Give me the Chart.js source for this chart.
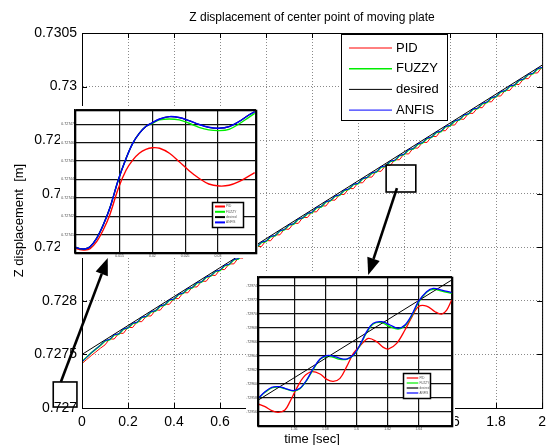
<!DOCTYPE html>
<html>
<head>
<meta charset="utf-8">
<script src="https://cdn.jsdelivr.net/npm/chart.js@4.4.0/dist/chart.umd.min.js"></script>
<style>
  html, body { margin: 0; padding: 0; background: #fff; }
  #wrap { position: relative; width: 552px; height: 445px; overflow: hidden; }
  canvas { position: absolute; background: #fff; }
  #overlay { background: transparent; pointer-events: none; }
</style>
</head>
<body>
<div id="wrap">
  <canvas id="main" width="552" height="445" style="left:0;top:0"></canvas>
  <canvas id="zoomA" width="198" height="152" style="left:60px;top:106px"></canvas>
  <canvas id="zoomB" width="209" height="159" style="left:246px;top:273px"></canvas>
  <canvas id="overlay" width="552" height="445" style="left:0;top:0"></canvas>
</div>
<script>
// ---- data ----
const seriesNames = ['PID', 'FUZZY', 'desired', 'ANFIS'];

// main plot, 0..2 s
const timeMain = [0,0.02,0.04,0.06,0.08,0.1,0.12,0.14,0.16,0.18,0.2,0.22,0.24,0.26,0.28,0.3,0.32,0.34,0.36,0.38,
  0.4,0.42,0.44,0.46,0.48,0.5,0.52,0.54,0.56,0.58,0.6,0.62,0.64,0.66,0.68,0.7,0.72,0.74,0.76,0.78,
  0.8,0.82,0.84,0.86,0.88,0.9,0.92,0.94,0.96,0.98,1,1.02,1.04,1.06,1.08,1.1,1.12,1.14,1.16,1.18,
  1.2,1.22,1.24,1.26,1.28,1.3,1.32,1.34,1.36,1.38,1.4,1.42,1.44,1.46,1.48,1.5,1.52,1.54,1.56,1.58,
  1.6,1.62,1.64,1.66,1.68,1.7,1.72,1.74,1.76,1.78,1.8,1.82,1.84,1.86,1.88,1.9,1.92,1.94,1.96,1.98,2];
const pidMain = [0.727415,0.727452,0.727489,0.727523,0.727558,0.727589,0.727644,0.727644,0.727697,0.727697,
  0.727753,0.727751,0.727806,0.727806,0.727859,0.727859,0.727915,0.727913,0.727968,0.727968,
  0.728021,0.728021,0.728077,0.728075,0.728130,0.728130,0.728183,0.728183,0.728239,0.728237,
  0.728292,0.728292,0.728345,0.728345,0.728401,0.728399,0.728454,0.728454,0.728507,0.728507,
  0.728563,0.728561,0.728616,0.728616,0.728669,0.728669,0.728725,0.728723,0.728778,0.728778,
  0.728831,0.728831,0.728887,0.728885,0.728940,0.728940,0.728993,0.728993,0.729049,0.729047,
  0.729102,0.729102,0.729155,0.729155,0.729211,0.729209,0.729264,0.729264,0.729317,0.729317,
  0.729373,0.729371,0.729426,0.729426,0.729479,0.729479,0.729535,0.729533,0.729588,0.729588,
  0.729641,0.729641,0.729697,0.729695,0.729750,0.729750,0.729803,0.729803,0.729859,0.729857,
  0.729912,0.729912,0.729965,0.729965,0.730021,0.730019,0.730074,0.730074,0.730127,0.730127,0.730183];
const fuzzyMain = [0.727432,0.727474,0.727515,0.727550,0.727584,0.727626,0.727637,0.727682,0.727689,0.727735,
  0.727746,0.727788,0.727798,0.727844,0.727853,0.727897,0.727905,0.727950,0.727961,0.728006,
  0.728014,0.728059,0.728070,0.728112,0.728122,0.728168,0.728175,0.728221,0.728231,0.728274,
  0.728284,0.728329,0.728339,0.728384,0.728391,0.728437,0.728448,0.728490,0.728500,0.728546,
  0.728555,0.728599,0.728607,0.728652,0.728663,0.728708,0.728716,0.728761,0.728772,0.728814,
  0.728824,0.728870,0.728877,0.728923,0.728933,0.728976,0.728986,0.729031,0.729041,0.729086,
  0.729093,0.729139,0.729150,0.729192,0.729202,0.729248,0.729257,0.729301,0.729309,0.729354,
  0.729365,0.729410,0.729418,0.729463,0.729474,0.729516,0.729526,0.729572,0.729579,0.729625,
  0.729635,0.729678,0.729688,0.729733,0.729743,0.729788,0.729795,0.729841,0.729852,0.729894,
  0.729904,0.729950,0.729959,0.730003,0.730011,0.730056,0.730067,0.730112,0.730120,0.730165,0.730176];
const anfisMain = [0.727430,0.727472,0.727514,0.727551,0.727586,0.727629,0.727640,0.727685,0.727692,0.727738,
  0.727749,0.727791,0.727801,0.727847,0.727856,0.727900,0.727908,0.727953,0.727964,0.728009,
  0.728017,0.728062,0.728073,0.728115,0.728125,0.728171,0.728178,0.728224,0.728234,0.728277,
  0.728287,0.728332,0.728342,0.728387,0.728394,0.728440,0.728451,0.728493,0.728503,0.728549,
  0.728558,0.728602,0.728610,0.728655,0.728666,0.728711,0.728719,0.728764,0.728775,0.728817,
  0.728827,0.728873,0.728880,0.728926,0.728936,0.728979,0.728989,0.729034,0.729044,0.729089,
  0.729096,0.729142,0.729153,0.729195,0.729205,0.729251,0.729260,0.729304,0.729312,0.729357,
  0.729368,0.729413,0.729421,0.729466,0.729477,0.729519,0.729529,0.729575,0.729582,0.729628,
  0.729638,0.729681,0.729691,0.729736,0.729746,0.729791,0.729798,0.729844,0.729855,0.729897,
  0.729907,0.729953,0.729962,0.730006,0.730014,0.730059,0.730070,0.730115,0.730123,0.730168,0.730179];
const desiredTime = [0, 2];
const desiredMain = [0.72750, 0.73020];

// first zoom (start of motion)
const zoomATime = [0.0080,0.0089,0.0097,0.0105,0.0115,0.0125,0.0135,0.0148,0.0160,0.0170,0.0180,0.0190,
  0.0200,0.0211,0.0226,0.0241,0.0256,0.0271,0.0286,0.0302,0.0317,0.0332,0.0347,0.0356];
const zoomAPid = [0.7274029,0.7274018,0.7274016,0.7274024,0.7274062,0.7274125,0.7274207,0.7274351,0.7274451,
  0.7274505,0.7274542,0.7274563,0.7274572,0.7274569,0.7274542,0.7274496,0.7274447,0.7274406,0.7274375,
  0.7274364,0.7274368,0.7274388,0.7274418,0.7274437];
const zoomAFuzzy = [0.7274034,0.7274024,0.7274022,0.7274034,0.7274080,0.7274152,0.7274243,0.7274397,0.7274515,
  0.7274596,0.7274650,0.7274687,0.7274705,0.7274723,0.7274728,0.7274723,0.7274705,0.7274683,0.7274669,
  0.7274665,0.7274672,0.7274701,0.7274737,0.7274759];
const zoomAAnfis = [0.7274034,0.7274024,0.7274022,0.7274034,0.7274080,0.7274152,0.7274243,0.7274397,0.7274515,
  0.7274596,0.7274650,0.7274687,0.7274708,0.7274728,0.7274741,0.7274736,0.7274719,0.7274699,0.7274683,
  0.7274678,0.7274687,0.7274714,0.7274750,0.7274768];
const zoomADesired = zoomAAnfis;

// second zoom (around 1.6 s)
const zoomBTime = [1.5370,1.5413,1.5456,1.5498,1.5541,1.5595,1.5637,1.5680,1.5723,1.5766,1.5809,1.5851,1.5894,
  1.5937,1.5980,1.6022,1.6065,1.6108,1.6162,1.6215,1.6268,1.6311,1.6354,1.6397,1.6450,1.6493,1.6547,1.6611];
const zoomBFuzzy = [0.7295795,0.7295881,0.7295943,0.7295957,0.7295933,0.7295900,0.7295933,0.7296048,0.7296210,
  0.7296352,0.7296395,0.7296381,0.7296352,0.7296352,0.7296405,0.7296548,0.7296733,0.7296857,0.7296876,
  0.7296819,0.7296786,0.7296833,0.7296971,0.7297162,0.7297310,0.7297352,0.7297329,0.7297295];
const zoomBAnfis = [0.7295795,0.7295890,0.7295952,0.7295962,0.7295938,0.7295905,0.7295938,0.7296057,0.7296224,
  0.7296357,0.7296405,0.7296400,0.7296367,0.7296357,0.7296414,0.7296557,0.7296748,0.7296867,0.7296890,
  0.7296843,0.7296795,0.7296843,0.7296986,0.7297176,0.7297319,0.7297367,0.7297343,0.7297305];
const zoomBPidTime = [1.5370,1.5413,1.5456,1.5498,1.5541,1.5573,1.5616,1.5659,1.5712,1.5766,1.5809,1.5851,1.5894,
  1.5937,1.5980,1.6022,1.6076,1.6129,1.6172,1.6204,1.6258,1.6311,1.6354,1.6397,1.6450,1.6504,1.6547,1.6579,1.6611];
const zoomBPid = [0.7295714,0.7295676,0.7295619,0.7295595,0.7295629,0.7295748,0.7295938,0.7296095,0.7296176,
  0.7296143,0.7296067,0.7296038,0.7296081,0.7296248,0.7296438,0.7296543,0.7296652,0.7296605,0.7296524,
  0.7296500,0.7296581,0.7296771,0.7296952,0.7297105,0.7297114,0.7297033,0.7297000,0.7297057,0.7297200];
const zoomBDesiredTime = [1.5370, 1.6611];
const zoomBDesired = [0.7295771, 0.7297486];

// zoom boxes and arrows, in main-plot units: [t0, t1, z0, z1] and [tFrom, zFrom, tTo, zTo]
const zoomBoxes = [[-0.125, -0.022, 0.727009, 0.727243], [1.322, 1.451, 0.729016, 0.729268]];
const zoomArrows = [[-0.092, 0.727243, 0.112, 0.728400], [1.369, 0.729053, 1.244, 0.728241]];

// ---- drawing ----
Chart.defaults.font.family = "'Liberation Sans', Arial, sans-serif";
Chart.defaults.color = '#000';

const colors = { PID: '#ff0000', FUZZY: '#00ee00', desired: '#000000', ANFIS: '#0000ff' };

function pts(xs, ys) {
  return xs.map((x, i) => ({ x: x, y: ys[i] }));
}

function makeSet(name, data, width, tension) {
  return {
    label: name,
    data: data,
    borderColor: colors[name],
    backgroundColor: colors[name],
    borderWidth: width,
    showLine: true,
    pointRadius: 0,
    fill: false,
    tension: tension,
    order: 4 - seriesNames.indexOf(name)
  };
}

// box round the plot area, with MATLAB style inner ticks
const frame = {
  id: 'frame',
  afterDraw(chart, args, o) {
    const { ctx, chartArea: a, scales } = chart;
    ctx.save();
    ctx.strokeStyle = '#000';
    ctx.lineWidth = o.width || 1;
    ctx.strokeRect(a.left + 0.5, a.top + 0.5, a.right - a.left, a.bottom - a.top);
    if (o.ticks) {
      ctx.lineWidth = 1;
      ctx.beginPath();
      scales.x.ticks.forEach(t => {
        const x = Math.round(scales.x.getPixelForValue(t.value)) + 0.5;
        ctx.moveTo(x, a.bottom); ctx.lineTo(x, a.bottom - o.ticks);
        ctx.moveTo(x, a.top); ctx.lineTo(x, a.top + o.ticks);
      });
      scales.y.ticks.forEach(t => {
        const y = Math.round(scales.y.getPixelForValue(t.value)) + 0.5;
        ctx.moveTo(a.left, y); ctx.lineTo(a.left + o.ticks, y);
        ctx.moveTo(a.right, y); ctx.lineTo(a.right - o.ticks, y);
      });
      ctx.stroke();
    }
    ctx.restore();
  }
};

// legend inside a bordered box
const boxLegend = {
  id: 'boxLegend',
  afterDraw(chart, args, o) {
    const ctx = chart.ctx;
    ctx.save();
    ctx.fillStyle = '#fff';
    ctx.fillRect(o.x, o.y, o.w, o.h);
    ctx.strokeStyle = '#000';
    ctx.lineWidth = o.border;
    ctx.strokeRect(o.x + 0.5, o.y + 0.5, o.w, o.h);
    ctx.font = o.font + "px 'Liberation Sans', Arial, sans-serif";
    ctx.textBaseline = 'middle';
    chart.data.datasets.forEach((ds, i) => {
      const y = o.y + o.first + i * o.gap;
      ctx.strokeStyle = ds.borderColor;
      ctx.lineWidth = o.lineWidth || ds.borderWidth;
      ctx.beginPath();
      ctx.moveTo(o.x + o.line0, y);
      ctx.lineTo(o.x + o.line1, y);
      ctx.stroke();
      ctx.fillStyle = o.textColor || '#000';
      ctx.fillText(ds.label, o.x + o.textX, y);
    });
    ctx.restore();
  }
};

function hideEnds(v, i, ticks) {
  return (i === 0 || i === ticks.length - 1) ? '' : null;
}

const mainChart = new Chart(document.getElementById('main'), {
  type: 'scatter',
  data: {
    datasets: [
      makeSet('PID', pts(timeMain, pidMain), 1, 0),
      makeSet('FUZZY', pts(timeMain, fuzzyMain), 1.6, 0),
      makeSet('desired', pts(desiredTime, desiredMain), 1, 0),
      makeSet('ANFIS', pts(timeMain, anfisMain), 1, 0)
    ]
  },
  options: {
    responsive: false,
    animation: false,
    devicePixelRatio: 1,
    layout: { padding: { left: 0, right: 7, top: 0, bottom: 0 } },
    plugins: {
      legend: { display: false },
      tooltip: { enabled: false },
      title: {
        display: true,
        text: 'Z displacement of center point of moving plate',
        fullSize: false,
        color: '#000',
        font: { size: 12, weight: 'normal' },
        padding: { top: 10, bottom: 8.6 }
      },
      frame: { width: 1, ticks: 5 },
      boxLegend: { x: 341, y: 34, w: 106, h: 86, first: 14, gap: 20.7, line0: 8, line1: 51, textX: 55, font: 13, border: 1 }
    },
    scales: {
      x: {
        type: 'linear', min: 0, max: 2,
        afterFit(s) { s.height = 37; },
        ticks: { stepSize: 0.2, padding: 6, autoSkip: false, maxRotation: 0, font: { size: 14 }, color: '#000',
          callback: v => String(Number(v.toFixed(1))) },
        grid: { color: '#8a8a8a', drawTicks: false },
        border: { color: '#000', dash: [1, 2] },
        title: { display: true, text: 'time [sec]', color: '#000', font: { size: 13 }, padding: { top: 0, bottom: -2 } }
      },
      y: {
        type: 'linear', min: 0.727, max: 0.7305,
        afterFit(s) { s.width = 82; },
        ticks: { stepSize: 0.0005, padding: 5, autoSkip: false, font: { size: 14 }, color: '#000',
          callback: v => String(Number(v.toFixed(4))) },
        grid: { color: '#8a8a8a', drawTicks: false },
        border: { color: '#000', dash: [1, 2] },
        title: { display: true, text: 'Z displacement  [m]', color: '#000', font: { size: 13 }, padding: { top: 12, bottom: 0 } }
      }
    }
  },
  plugins: [frame, boxLegend]
});

function insetOptions(cfg) {
  return {
    responsive: false,
    animation: false,
    devicePixelRatio: 1,
    layout: { padding: cfg.padding },
    plugins: {
      legend: { display: false },
      tooltip: { enabled: false },
      frame: { width: 1.6 },
      boxLegend: cfg.legend
    },
    scales: {
      x: {
        type: 'linear', min: cfg.xMin, max: cfg.xMax,
        afterFit(s) { s.height = cfg.xHeight; },
        ticks: { stepSize: cfg.xStep, padding: 1, autoSkip: false, maxRotation: 0, font: { size: 3.5 }, color: '#444',
          callback: (v, i, t) => hideEnds(v, i, t) === '' ? '' : String(Number(v.toFixed(3))) },
        grid: { color: '#111', lineWidth: 1.2, drawTicks: false },
        border: { color: '#000', width: 1.5 }
      },
      y: {
        type: 'linear', min: cfg.yMin, max: cfg.yMax,
        afterFit(s) { s.width = cfg.yWidth; },
        ticks: { stepSize: cfg.yStep, padding: 1, autoSkip: false, font: { size: 3.5 }, color: '#444',
          callback: (v, i, t) => hideEnds(v, i, t) === '' ? '' : v.toFixed(5) },
        grid: { color: '#111', lineWidth: 1.2, drawTicks: false },
        border: { color: '#000', width: 1.5 }
      }
    }
  };
}

new Chart(document.getElementById('zoomA'), {
  type: 'scatter',
  data: {
    datasets: [
      makeSet('PID', pts(zoomATime, zoomAPid), 1.4, 0.35),
      makeSet('FUZZY', pts(zoomATime, zoomAFuzzy), 1.4, 0.35),
      makeSet('desired', pts(zoomATime, zoomADesired), 1.2, 0.35),
      makeSet('ANFIS', pts(zoomATime, zoomAAnfis), 1.4, 0.35)
    ]
  },
  options: insetOptions({
    padding: { left: 0, right: 2, top: 4, bottom: 0 },
    xMin: 0.0082, xMax: 0.0358, xStep: 0.005, xHeight: 5,
    yMin: 0.72740, yMax: 0.7274777, yStep: 0.00001, yWidth: 15,
    legend: { x: 152, y: 96, w: 31, h: 25, first: 4.5, gap: 5.3, line0: 3, line1: 13, textX: 14, font: 3.2, border: 1.5, lineWidth: 2, textColor: '#555' }
  }),
  plugins: [frame, boxLegend]
});

new Chart(document.getElementById('zoomB'), {
  type: 'scatter',
  data: {
    datasets: [
      makeSet('PID', pts(zoomBPidTime, zoomBPid), 1.3, 0.35),
      makeSet('FUZZY', pts(zoomBTime, zoomBFuzzy), 1.3, 0.35),
      makeSet('desired', pts(zoomBDesiredTime, zoomBDesired), 1, 0),
      makeSet('ANFIS', pts(zoomBTime, zoomBAnfis), 1.3, 0.35)
    ]
  },
  options: insetOptions({
    padding: { left: 0, right: 3, top: 4, bottom: 0 },
    xMin: 1.5368, xMax: 1.6613, xStep: 0.02, xHeight: 6,
    yMin: 0.72954, yMax: 0.7297529, yStep: 0.00002, yWidth: 12,
    legend: { x: 157, y: 100, w: 27, h: 25, first: 5, gap: 5, line0: 3.7, line1: 15.3, textX: 16.5, font: 3, border: 1.5, lineWidth: 1.2, textColor: '#555' }
  }),
  plugins: [frame, boxLegend]
});

// zoom boxes and arrows on top of everything, placed through the main scales
(function drawZoomMarks() {
  const ctx = document.getElementById('overlay').getContext('2d');
  const sx = mainChart.scales.x, sy = mainChart.scales.y;
  ctx.strokeStyle = '#000';
  ctx.fillStyle = '#000';
  ctx.lineWidth = 1.6;
  zoomBoxes.forEach(b => {
    const x0 = sx.getPixelForValue(b[0]), x1 = sx.getPixelForValue(b[1]);
    const y0 = sy.getPixelForValue(b[2]), y1 = sy.getPixelForValue(b[3]);
    ctx.strokeRect(x0, y1, x1 - x0, y0 - y1);
  });
  zoomArrows.forEach(a => {
    const x0 = sx.getPixelForValue(a[0]), y0 = sy.getPixelForValue(a[1]);
    const x1 = sx.getPixelForValue(a[2]), y1 = sy.getPixelForValue(a[3]);
    const ang = Math.atan2(y1 - y0, x1 - x0);
    const head = 17, half = 6.5;
    const bx = x1 - head * Math.cos(ang), by = y1 - head * Math.sin(ang);
    ctx.lineWidth = 2.6;
    ctx.beginPath();
    ctx.moveTo(x0, y0);
    ctx.lineTo(bx, by);
    ctx.stroke();
    ctx.beginPath();
    ctx.moveTo(x1, y1);
    ctx.lineTo(bx + half * Math.sin(ang), by - half * Math.cos(ang));
    ctx.lineTo(bx - half * Math.sin(ang), by + half * Math.cos(ang));
    ctx.closePath();
    ctx.fill();
  });
})();
</script>
</body>
</html>
